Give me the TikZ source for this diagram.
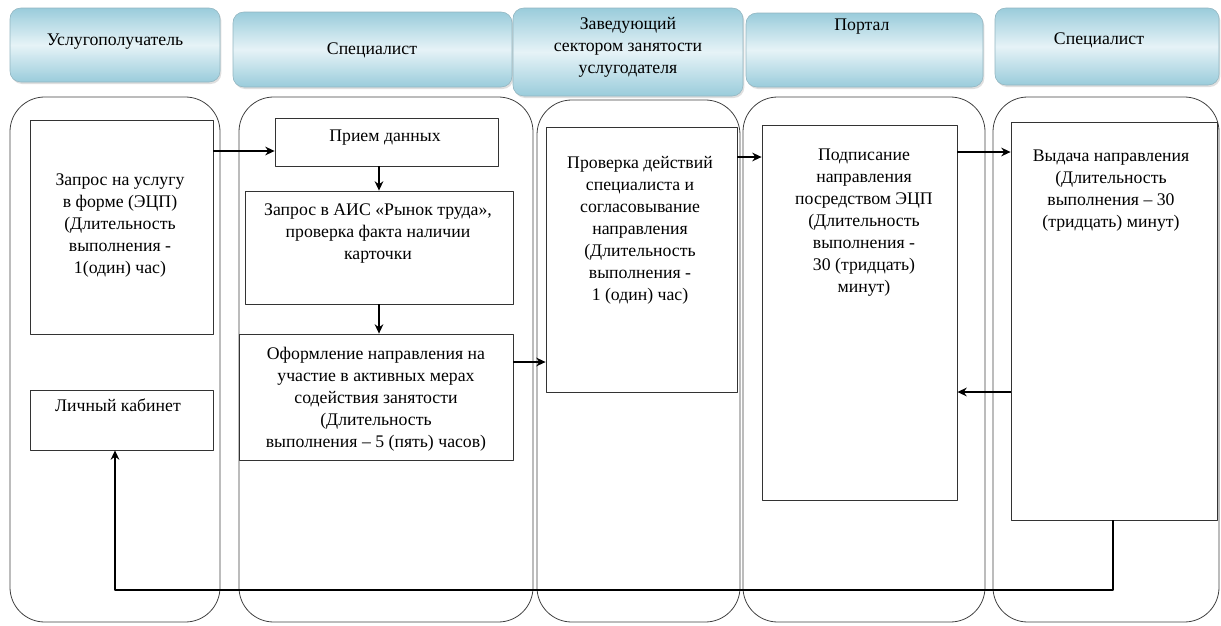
\documentclass[tikz,border=0pt]{standalone}
\usepackage{fontspec}
\setmainfont{Liberation Serif}
\usetikzlibrary{fit,shadows,arrows.meta}
\definecolor{hdrblue}{HTML}{9ACCDB}
\definecolor{hdrlight}{HTML}{E6F3F7}
\begin{document}
\begin{tikzpicture}[x=0.75pt,y=-0.75pt,line join=round,>={Stealth[length=7pt,width=6.5pt]},
	font=\fontsize{13.3}{16.5}\selectfont,
	hdr/.style={rounded corners=8pt,draw=hdrblue!70!gray,line width=0.4pt,top color=hdrblue,bottom color=hdrblue,middle color=hdrlight,
		drop shadow={shadow xshift=1pt,shadow yshift=-1.5pt,fill=gray!50},inner sep=0pt,align=center},
	lane/.style={draw=black!75,rounded corners=26pt,line width=0.6pt,inner sep=0pt},
	box/.style={draw=black!80,line width=0.6pt,inner sep=0pt,fill=white},
	txt/.style={align=center,anchor=north,inner sep=0pt},
	arr/.style={->,line width=2.1pt}]
	\useasboundingbox (0,0) rectangle (1221,625);
	\node[hdr,fit={(10,8)(220,82)}] (h1) {};
	\node[hdr,fit={(233,12)(512,87)}] (h2) {};
	\node[hdr,fit={(513,8)(743,96)}] (h3) {};
	\node[hdr,fit={(746,13)(983,87)}] (h4) {};
	\node[hdr,fit={(995,8)(1219,85)}] (h5) {};
	\node (h1t) at (115,42) {Услугополучатель};
	\node (h2t) at (372,50) {Специалист};
	\node[align=center] (h3t) at (628,47) {Заведующий\\сектором занятости\\услугодателя};
	\node (h4t) at (862,27) {Портал};
	\node (h5t) at (1099,40) {Специалист};
	\node[lane,fit={(10,97)(220,622)}] (l1) {};
	\node[lane,fit={(239,97)(533,622)}] (l2) {};
	\node[lane,fit={(537,100)(740,622)}] (l3) {};
	\node[lane,fit={(743,97)(985,622)}] (l4) {};
	\node[lane,fit={(993,97)(1219,622)}] (l5) {};
	\node[box,fit={(30,120)(213,334)}] (req) {};
	\node[box,fit={(30,390)(213,450)}] (cab) {};
	\node[box,fit={(275,118)(498,166)}] (rcv) {};
	\node[box,fit={(245,191)(513,304)}] (ais) {};
	\node[box,fit={(239,334)(513,460)}] (form) {};
	\node[box,fit={(546,127)(737,392)}] (chk) {};
	\node[box,fit={(762,125)(957,500)}] (sign) {};
	\node[box,fit={(1011,122)(1217,520)}] (iss) {};
	\node[txt] (reqt) at (120,173) {Запрос на услугу\\в форме (ЭЦП)\\(Длительность\\выполнения -\\1(один) час)};
	\node[txt] (cabt) at (118,399) {Личный кабинет};
	\node[txt] (rcvt) at (385,130) {Прием данных};
	\node[txt] (aist) at (378,203) {Запрос в АИС «Рынок труда»,\\проверка факта наличии\\карточки};
	\node[txt] (formt) at (376,347) {Оформление направления на\\участие в активных мерах\\содействия занятости\\(Длительность\\выполнения – 5 (пять) часов)};
	\node[txt] (chkt) at (640,156) {Проверка действий\\специалиста и\\согласовывание\\направления\\(Длительность\\выполнения -\\1 (один) час)};
	\node[txt] (signt) at (864,149) {Подписание\\направления\\посредством ЭЦП\\(Длительность\\выполнения -\\30 (тридцать)\\минут)};
	\node[txt] (isst) at (1111,150) {Выдача направления\\(Длительность\\выполнения – 30\\(тридцать) минут)};
	\coordinate (turnR) at (1113,590);
	\coordinate (turnL) at (115,590);
	\draw[arr] (req.east|-0,151)--(rcv.west|-0,151);
	\draw[arr] (ais.north|-rcv.south)--(ais.north);
	\draw[arr] (ais.south)--(ais.south|-form.north);
	\draw[arr] (form.east|-0,362)--(chk.west|-0,362);
	\draw[arr] (chk.east|-0,157)--(sign.west|-0,157);
	\draw[arr] (sign.east|-0,152)--(iss.west|-0,152);
	\draw[arr] (iss.west|-0,392)--(sign.east|-0,392);
	\draw[arr] (iss.south-|turnR)--(turnR)--(turnL)--(cab.south-|turnL);
\end{tikzpicture}
\end{document}
